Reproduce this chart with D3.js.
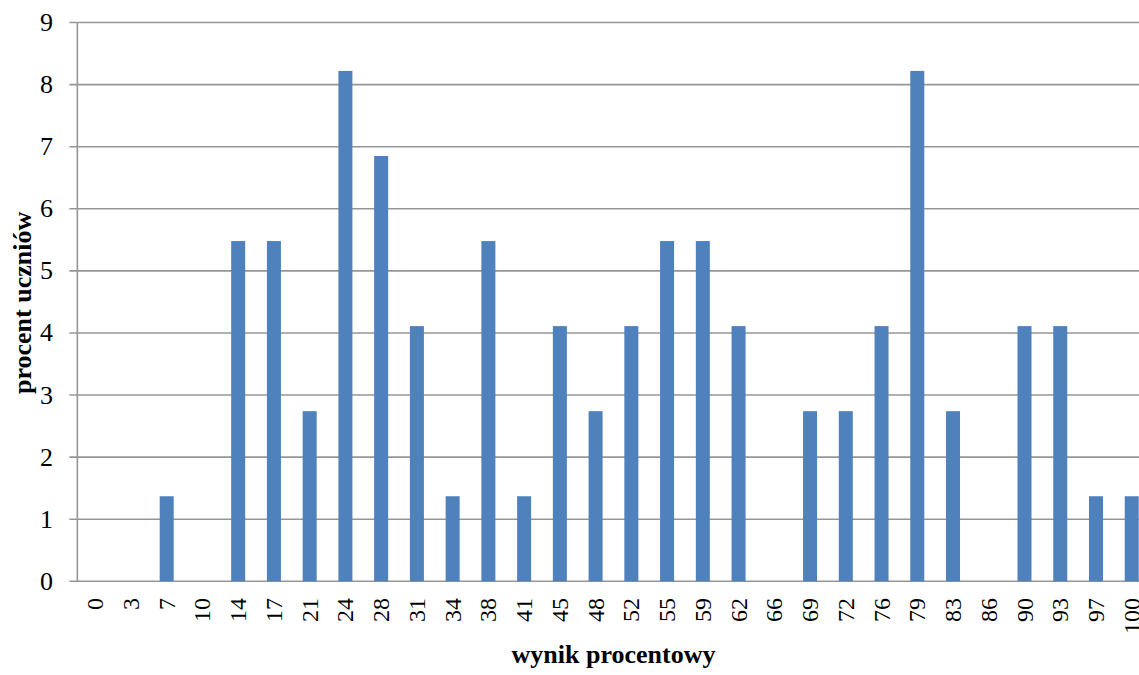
<!DOCTYPE html>
<html><head><meta charset="utf-8">
<script src="https://cdn.jsdelivr.net/npm/d3@7"></script>
<style>body{margin:0;background:#fff}svg{display:block}</style>
</head><body>
<svg id="c" width="1139" height="675"></svg>
<script>
const categories = ["0","3","7","10","14","17","21","24","28","31","34","38","41","45","48","52","55","59","62","66","69","72","76","79","83","86","90","93","97","100"];
const values = [0,0,1.37,0,5.48,5.48,2.74,8.22,6.85,4.11,1.37,5.48,1.37,4.11,2.74,4.11,5.48,5.48,4.11,0,2.74,2.74,4.11,8.22,2.74,0,4.11,4.11,1.37,1.37];
const yTicks = [0,1,2,3,4,5,6,7,8,9];
const xTitle = "wynik procentowy";
const yTitle = "procent uczniów";

const svg = d3.select("#c");
const L = 77.35, R = 1149.6, T = 22.5, B = 581.3;
const x = d3.scaleBand().domain(categories).range([L, R]).paddingInner(0.608).paddingOuter(0.304);
const y = d3.scaleLinear().domain([0, 9]).range([B, T]);
const font = "'Liberation Serif','Times New Roman',serif";

// gridlines
svg.append("g").selectAll("line").data(yTicks).join("line")
  .attr("x1", L - 8).attr("x2", R)
  .attr("y1", d => y(d)).attr("y2", d => y(d))
  .attr("stroke", "#969696").attr("stroke-width", 1.6);

// bars
svg.append("g").selectAll("rect").data(values).join("rect")
  .attr("x", (d, i) => x(categories[i]))
  .attr("width", x.bandwidth())
  .attr("y", d => y(d))
  .attr("height", d => B - y(d))
  .attr("fill", "#4f81bd");

// y axis line
svg.append("line").attr("x1", L).attr("x2", L).attr("y1", T).attr("y2", B)
  .attr("stroke", "#969696").attr("stroke-width", 1.6);

// y tick labels
svg.append("g").selectAll("text").data(yTicks).join("text")
  .attr("x", 53).attr("y", d => y(d))
  .attr("text-anchor", "end").attr("dominant-baseline", "central")
  .attr("font-family", font).attr("font-size", 26).attr("fill", "#000")
  .text(d => d);

// x tick labels
svg.append("g").selectAll("text").data(categories).join("text")
  .attr("transform", d => `translate(${x(d) + x.bandwidth() / 2},598) rotate(-90)`)
  .attr("text-anchor", "end").attr("dominant-baseline", "central")
  .attr("font-family", font).attr("font-size", 24).attr("fill", "#000")
  .text(d => d);

// axis titles
svg.append("text").attr("x", (L + R) / 2).attr("y", 663)
  .attr("text-anchor", "middle").attr("font-family", font).attr("font-weight", "bold")
  .attr("font-size", 26).text(xTitle);
svg.append("text").attr("transform", `translate(31,${(T + B) / 2 + 1}) rotate(-90)`)
  .attr("text-anchor", "middle").attr("font-family", font).attr("font-weight", "bold")
  .attr("font-size", 26).text(yTitle);
</script>
</body></html>
